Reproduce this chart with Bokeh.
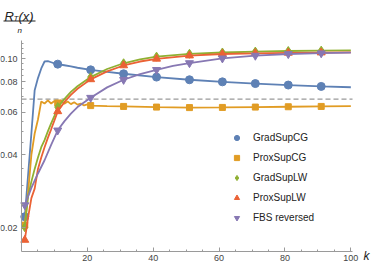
import math
from bokeh.plotting import figure
from bokeh.models import (ColumnDataSource, CDSView, IndexFilter, FixedTicker,
                          PrintfTickFormatter, Legend, LegendItem, Label,
                          BoxAnnotation, Range1d)
from bokeh.embed import file_html
from bokeh.resources import INLINE

# ---------------- data ----------------
marker_k = [1, 11, 21, 31, 41, 51, 61, 71, 81, 91]

grad_cg_k = [1, 2, 3, 4, 5, 6, 7, 8, 9, 10, 11, 13, 15, 17, 21, 26, 31, 41, 51, 61, 71, 81, 91, 100]
grad_cg_v = [0.0222, 0.033, 0.049, 0.074, 0.083, 0.091, 0.0972, 0.0975, 0.0965, 0.0955, 0.0948,
             0.0938, 0.0927, 0.0916, 0.0898, 0.088, 0.0865, 0.0838, 0.0817, 0.0801, 0.0788,
             0.0777, 0.0767, 0.0761]

prox_cg_k = [1, 2, 3, 4, 5, 6, 7, 8, 9, 10, 11, 12, 13, 14, 15, 16, 17, 18, 19, 20, 21,
             26, 31, 41, 51, 61, 71, 81, 91, 100]
prox_cg_v = [0.0205, 0.028, 0.040, 0.049, 0.056, 0.0665, 0.0652, 0.0672, 0.0652, 0.0668,
             0.0655, 0.0672, 0.065, 0.0665, 0.0648, 0.066, 0.0645, 0.0652, 0.064, 0.0646,
             0.0639, 0.0636, 0.0634, 0.063, 0.0627, 0.0628, 0.063, 0.0632, 0.0634, 0.0636]

grad_lw_k = [1, 2, 3, 4, 5, 6, 7, 8, 9, 10, 11, 13, 15, 17, 21, 26, 31, 36, 41, 51, 61, 71, 81, 91, 100]
grad_lw_v = [0.0201, 0.027, 0.031, 0.035, 0.039, 0.043, 0.046, 0.050, 0.054, 0.058, 0.063,
             0.068, 0.0728, 0.0768, 0.0838, 0.0905, 0.0956, 0.0992, 0.1018, 0.1046, 0.1059,
             0.1068, 0.1074, 0.1078, 0.108]

prox_lw_k = [1, 2, 3, 4, 5, 6, 7, 8, 9, 10, 11, 13, 15, 17, 21, 26, 31, 36, 41, 51, 61, 71, 81, 91, 100]
prox_lw_v = [0.0178, 0.022, 0.0265, 0.029, 0.035, 0.039, 0.043, 0.047, 0.051, 0.0555, 0.0605,
             0.066, 0.0708, 0.075, 0.082, 0.0885, 0.0936, 0.0972, 0.0997, 0.1028, 0.1044,
             0.1051, 0.1055, 0.1058, 0.106]

fbs_k = [1, 3, 5, 7, 9, 11, 13, 15, 17, 21, 26, 31, 36, 41, 46, 51, 61, 71, 81, 91, 100]
fbs_v = [0.0248, 0.0292, 0.0335, 0.038, 0.044, 0.0505, 0.055, 0.0592, 0.063, 0.0689, 0.076,
         0.0817, 0.0862, 0.0898, 0.0932, 0.0958, 0.1002, 0.1028, 0.1044, 0.1052, 0.1058]

dash_level = 0.068

names = ["GradSupCG", "ProxSupCG", "GradSupLW", "ProxSupLW", "FBS reversed"]

# axis extents (plot range) and ticks
k_lo, k_hi = 0, 100.5
y_lo, y_hi = 0.01595, 0.1187
x_major = [20, 40, 60, 80, 100]
x_minor = [5, 10, 15, 25, 30, 35, 45, 50, 55, 65, 70, 75, 85, 90, 95]
y_major = [0.02, 0.04, 0.06, 0.08, 0.10]
y_minor = [0.025, 0.03, 0.035, 0.045, 0.05, 0.055, 0.065, 0.07, 0.075, 0.085, 0.09,
           0.095, 0.105, 0.11, 0.115]

# ---------------- layout (pixels) ----------------
W, H = 374, 265
AX_L, AX_R = 21, 352      # x-axis pixel extent
AX_T, AX_B = 40, 251      # y-axis pixel extent

ppx = (AX_R - AX_L) / (k_hi - k_lo)
x_start = k_lo - AX_L / ppx
x_end = k_hi + (W - AX_R) / ppx
lpy = (math.log10(y_hi) - math.log10(y_lo)) / (AX_B - AX_T)
y_end = 10 ** (math.log10(y_hi) + AX_T * lpy)
y_start = 10 ** (math.log10(y_lo) - (H - AX_B) * lpy)

FONT = "Liberation Sans"
colors = ["#5E81B5", "#E19C24", "#8FB032", "#EB6235", "#8778B3"]
markers = ["circle", "square", "diamond", "triangle", "inverted_triangle"]
sizes = [8, 6, 9, 8, 8]
AX = "#9a9a9a"
TXT = "#444444"

p = figure(width=W, height=H, x_range=Range1d(x_start, x_end),
           y_range=Range1d(y_start, y_end), y_axis_type="log",
           output_backend="svg", toolbar_location=None,
           min_border_left=0, min_border_right=0, min_border_top=0, min_border_bottom=0)
p.outline_line_color = None
p.xgrid.visible = False
p.ygrid.visible = False
p.background_fill_color = "white"
p.border_fill_color = "white"

for ax in (p.xaxis[0], p.yaxis[0]):
    ax.axis_line_color = AX
    ax.axis_line_width = 1
    ax.major_tick_line_color = AX
    ax.minor_tick_line_color = AX
    ax.major_tick_in = 4
    ax.major_tick_out = 0
    ax.minor_tick_in = 2
    ax.minor_tick_out = 0
    ax.major_label_text_font = FONT
    ax.major_label_text_font_size = "9px"
    ax.major_label_text_color = TXT

xa = p.xaxis[0]
xa.ticker = FixedTicker(ticks=x_major, minor_ticks=x_minor)
xa.fixed_location = y_lo
xa.bounds = (k_lo, k_hi)
xa.major_label_standoff = 3

ya = p.yaxis[0]
ya.ticker = FixedTicker(ticks=y_major, minor_ticks=y_minor)
ya.formatter = PrintfTickFormatter(format="%.2f")
ya.fixed_location = k_lo
ya.bounds = (y_lo, y_hi)
ya.major_label_standoff = 4

# dashed reference level across the axis extent
p.segment(x0=[k_lo], x1=[k_hi], y0=[dash_level], y1=[dash_level],
          line_color="#999999", line_dash="5 3", line_width=1.3)

all_k = [grad_cg_k, prox_cg_k, grad_lw_k, prox_lw_k, fbs_k]
all_v = [grad_cg_v, prox_cg_v, grad_lw_v, prox_lw_v, fbs_v]

items = []
for name, ks, vs, c, m, s in zip(names, all_k, all_v, colors, markers, sizes):
    src = ColumnDataSource(dict(k=ks, v=vs))
    p.line("k", "v", source=src, line_color=c, line_width=1.8)
    idx = [ks.index(mk) for mk in marker_k]
    r = p.scatter("k", "v", source=src, view=CDSView(filter=IndexFilter(idx)),
                  marker=m, size=s, fill_color=c, line_color=c)
    items.append(LegendItem(label=name, renderers=[r]))

legend = Legend(items=items, location=(230, 40), padding=0, margin=0, spacing=4,
                glyph_width=13, glyph_height=13, label_height=16, label_standoff=10,
                label_text_font=FONT, label_text_font_size="10px",
                label_text_color="#222222", border_line_color=None,
                background_fill_alpha=0)
p.add_layout(legend)

# ---------------- axis titles (screen px, origin bottom-left of canvas) ----------------
def lab(text, x, y_top_px, size, style="italic"):
    p.add_layout(Label(x=x, y=H - y_top_px, x_units="screen", y_units="screen", text=text,
                       text_font=FONT, text_font_size=size, text_font_style=style,
                       text_color="#222222", text_baseline="alphabetic",
                       text_align="left"))

lab("R", 4, 15.5, "13px")
lab("T", 13, 17.5, "8px")
lab("(x)", 18, 15.5, "13px")
p.add_layout(BoxAnnotation(left=3, right=35, bottom=H - 20.9, top=H - 20.1,
                           left_units="screen", right_units="screen",
                           bottom_units="screen", top_units="screen",
                           fill_color="#222222", fill_alpha=1, line_color=None))
lab("n", 17, 29.5, "8px")
lab("k", 363, 255.5, "12px")

open("out.html", "w").write(file_html(p, INLINE))
